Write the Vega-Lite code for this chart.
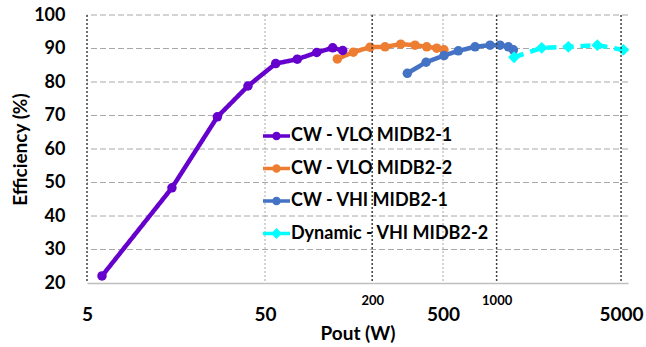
{
  "$schema": "https://vega.github.io/schema/vega-lite/v6.json",
  "width": 541,
  "height": 268,
  "autosize": {"type": "none"},
  "padding": {"left": 87, "top": 15, "right": 18, "bottom": 64},
  "config": {
    "view": {"stroke": null},
    "font": "Lato"
  },
  "datasets": {
    "series": [
      {"series": "CW - VLO MIDB2-1", "pout": 6.07, "eff": 22.1},
      {"series": "CW - VLO MIDB2-1", "pout": 15.0, "eff": 48.4},
      {"series": "CW - VLO MIDB2-1", "pout": 27.0, "eff": 69.6},
      {"series": "CW - VLO MIDB2-1", "pout": 40.1, "eff": 78.8},
      {"series": "CW - VLO MIDB2-1", "pout": 57.4, "eff": 85.5},
      {"series": "CW - VLO MIDB2-1", "pout": 75.9, "eff": 86.8},
      {"series": "CW - VLO MIDB2-1", "pout": 97.6, "eff": 88.8},
      {"series": "CW - VLO MIDB2-1", "pout": 120, "eff": 90.2},
      {"series": "CW - VLO MIDB2-1", "pout": 136.6, "eff": 89.4},
      {"series": "CW - VLO MIDB2-2", "pout": 127.4, "eff": 86.9},
      {"series": "CW - VLO MIDB2-2", "pout": 156.7, "eff": 88.9},
      {"series": "CW - VLO MIDB2-2", "pout": 194.6, "eff": 90.4},
      {"series": "CW - VLO MIDB2-2", "pout": 236.2, "eff": 90.5},
      {"series": "CW - VLO MIDB2-2", "pout": 289.3, "eff": 91.3},
      {"series": "CW - VLO MIDB2-2", "pout": 348, "eff": 91.0},
      {"series": "CW - VLO MIDB2-2", "pout": 404.9, "eff": 90.5},
      {"series": "CW - VLO MIDB2-2", "pout": 461, "eff": 90.1},
      {"series": "CW - VLO MIDB2-2", "pout": 506, "eff": 89.6},
      {"series": "CW - VHI  MIDB2-1", "pout": 315, "eff": 82.6},
      {"series": "CW - VHI  MIDB2-1", "pout": 401.6, "eff": 85.9},
      {"series": "CW - VHI  MIDB2-1", "pout": 506.5, "eff": 87.9},
      {"series": "CW - VHI  MIDB2-1", "pout": 609.5, "eff": 89.3},
      {"series": "CW - VHI  MIDB2-1", "pout": 756.8, "eff": 90.5},
      {"series": "CW - VHI  MIDB2-1", "pout": 918.6, "eff": 91.0},
      {"series": "CW - VHI  MIDB2-1", "pout": 1045, "eff": 91.0},
      {"series": "CW - VHI  MIDB2-1", "pout": 1164, "eff": 90.5},
      {"series": "CW - VHI  MIDB2-1", "pout": 1242, "eff": 89.6},
      {"series": "Dynamic - VHI MIDB2-2", "pout": 1253, "eff": 87.4},
      {"series": "Dynamic - VHI MIDB2-2", "pout": 1792, "eff": 90.2},
      {"series": "Dynamic - VHI MIDB2-2", "pout": 2528, "eff": 90.5},
      {"series": "Dynamic - VHI MIDB2-2", "pout": 3680, "eff": 91.0},
      {"series": "Dynamic - VHI MIDB2-2", "pout": 5150, "eff": 89.6}
    ],
    "rules": [{"x": 5}, {"x": 200}, {"x": 1000}, {"x": 5000}],
    "ygrid": [{"g": 30}, {"g": 40}, {"g": 50}, {"g": 60}, {"g": 70}, {"g": 80}, {"g": 90}, {"g": 100}],
    "xgrid": [{"g": 50}, {"g": 500}]
  },
  "layer": [
    {
      "data": {"name": "ygrid"},
      "mark": {"type": "rule", "color": "#a8a8a8", "strokeDash": [6, 3], "strokeWidth": 1},
      "encoding": {
        "y": {
          "field": "g", "type": "quantitative",
          "scale": {"domain": [20, 100], "nice": false, "zero": false},
          "axis": {
            "values": [20, 30, 40, 50, 60, 70, 80, 90, 100], "labelOverlap": false,
            "labelFont": "Lato", "labelFontSize": 18, "labelFontWeight": "bold", "labelColor": "black",
            "labelPadding": 22, "ticks": false, "domain": false, "grid": false,
            "title": "Efficiency (%)", "titleFont": "Lato", "titleFontSize": 19, "titleFontWeight": "bold",
            "titleColor": "black", "titlePadding": 3
          }
        }
      }
    },
    {
      "data": {"name": "xgrid"},
      "mark": {"type": "rule", "color": "#a8a8a8", "strokeDash": [2, 2], "strokeWidth": 1},
      "encoding": {
        "x": {"field": "g", "type": "quantitative", "axis": null}
      }
    },
    {
      "layer": [
        {
          "mark": {"type": "line", "strokeWidth": 4.5},
          "encoding": {
            "color": {
              "field": "series", "type": "nominal",
              "scale": {
                "domain": ["CW - VLO MIDB2-1", "CW - VLO MIDB2-2", "CW - VHI  MIDB2-1", "Dynamic - VHI MIDB2-2"],
                "range": ["#6600CC", "#ED7D31", "#4472C4", "#00FFFF"]
              },
              "legend": {
                "orient": "none", "legendX": 176, "legendY": 107.5, "padding": 0, "offset": 0,
                "title": null, "symbolSize": 729, "rowPadding": 9.5, "labelOffset": 1,
                "labelFont": "Lato", "labelFontSize": 18, "labelFontWeight": "bold", "labelColor": "black",
                "labelLimit": 400,
                "encode": {
                  "symbols": {
                    "update": {
                      "shape": {"signal": "datum.value === 'Dynamic - VHI MIDB2-2' ? 'M-1,-0.13H1V0.13H-1Z M0,-0.4L0.4,0L0,0.4L-0.4,0Z' : 'M-1,-0.13H1V0.13H-1Z M-0.32,0A0.32,0.32 0 1,1 0.32,0A0.32,0.32 0 1,1 -0.32,0Z'"},
                      "size": {"value": 729},
                      "fill": {"scale": "color", "field": "value"},
                      "stroke": {"value": "transparent"},
                      "strokeWidth": {"value": 0},
                      "opacity": {"value": 1}
                    }
                  }
                }
              }
            },
            "strokeDash": {
              "condition": {"test": "datum.series === 'Dynamic - VHI MIDB2-2'", "value": [10, 7]},
              "value": [1, 0]
            }
          }
        },
        {
          "mark": {"type": "point", "filled": true, "opacity": 1},
          "encoding": {
            "color": {"field": "series", "type": "nominal", "legend": null},
            "shape": {
              "condition": {"test": "datum.series === 'Dynamic - VHI MIDB2-2'", "value": "diamond"},
              "value": "circle"
            },
            "size": {
              "condition": {"test": "datum.series === 'Dynamic - VHI MIDB2-2'", "value": 140},
              "value": 90
            }
          }
        }
      ],
      "data": {"name": "series"},
      "encoding": {
        "x": {
          "field": "pout", "type": "quantitative",
          "scale": {"type": "log", "domain": [5, 5470], "nice": false},
          "axis": {
            "orient": "bottom",
            "values": [5, 50, 500, 5000], "format": "d", "labelFlush": false, "labelOverlap": false,
            "labelFont": "Lato", "labelFontSize": 19, "labelFontWeight": "bold", "labelColor": "black",
            "labelPadding": 22, "ticks": false,
            "domain": true, "domainColor": "#bfbfbf", "domainWidth": 1.5,
            "grid": false,
            "title": "Pout (W)", "titleFont": "Lato", "titleFontSize": 19, "titleFontWeight": "bold",
            "titleColor": "black", "titlePadding": 0
          }
        },
        "y": {
          "field": "eff", "type": "quantitative",
          "axis": {
            "values": [20, 30, 40, 50, 60, 70, 80, 90, 100], "labelOverlap": false,
            "labelFont": "Lato", "labelFontSize": 18, "labelFontWeight": "bold", "labelColor": "black",
            "labelPadding": 22, "ticks": false, "domain": false, "grid": false,
            "title": "Efficiency (%)", "titleFont": "Lato", "titleFontSize": 19, "titleFontWeight": "bold",
            "titleColor": "black", "titlePadding": 3
          }
        }
      }
    },
    {
      "data": {"name": "rules"},
      "mark": {"type": "rule", "color": "#404040", "strokeDash": [2, 2], "strokeWidth": 1.5},
      "encoding": {
        "x": {
          "field": "x", "type": "quantitative",
          "axis": {
            "orient": "bottom",
            "values": [200, 1000], "format": "d", "labelFlush": false,
            "labelFont": "Lato", "labelFontSize": 13, "labelFontWeight": "bold", "labelColor": "black",
            "labelPadding": 11, "ticks": false, "domain": false, "grid": false, "title": null
          }
        }
      }
    }
  ],
  "resolve": {"axis": {"x": "independent"}}
}
